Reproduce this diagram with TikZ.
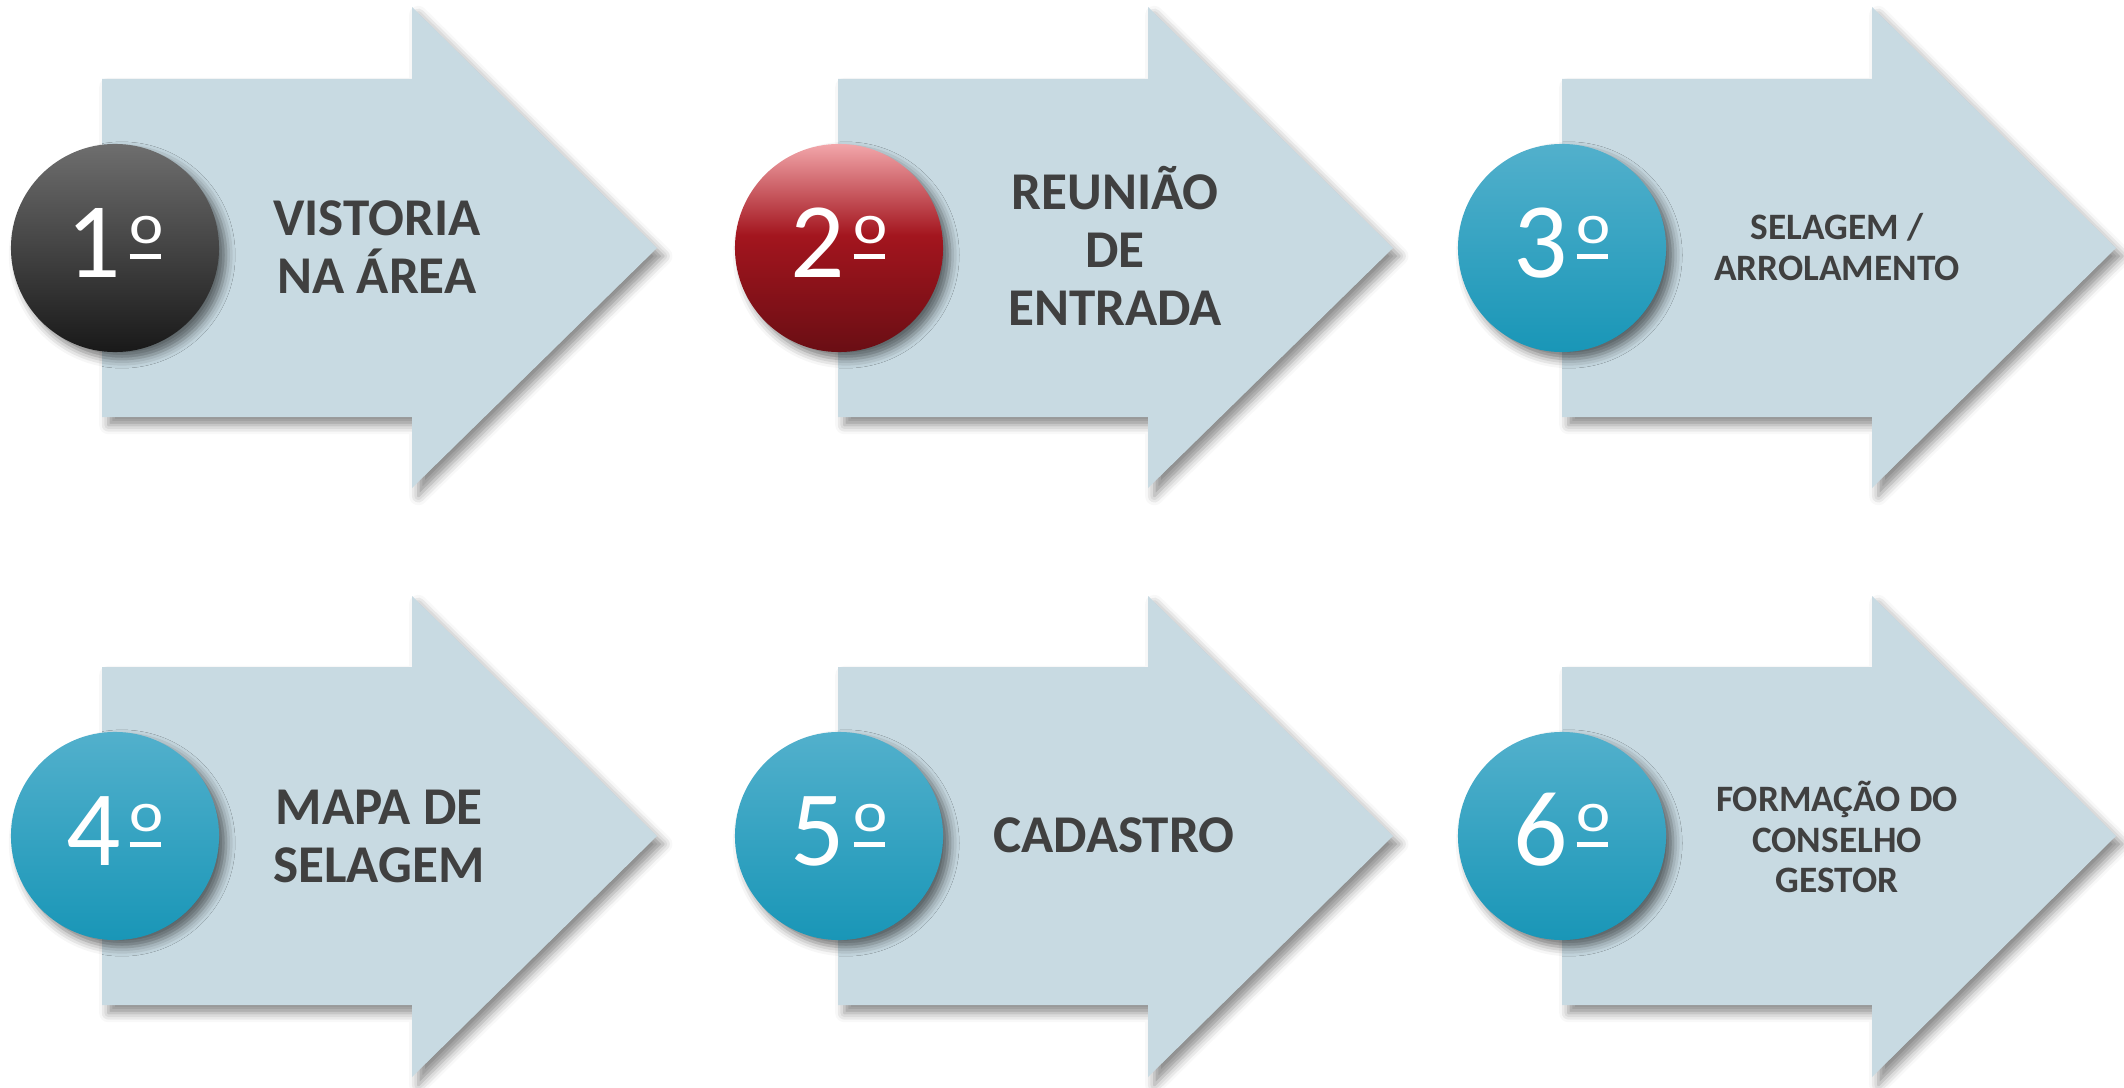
\documentclass[tikz,border=0pt]{standalone}
\usepackage{fontspec}
\usepackage{graphicx}
\setmainfont{Carlito}
\usetikzlibrary{shadows.blur}

\definecolor{setacor}{HTML}{C8DAE2}
\definecolor{textocor}{HTML}{404040}
\definecolor{pretocima}{HTML}{6E6E6E}
\definecolor{pretobaixo}{HTML}{191919}
\definecolor{vermcima}{HTML}{F2A6AA}
\definecolor{vermmeio}{HTML}{A3151E}
\definecolor{vermbaixo}{HTML}{6A0E14}
\definecolor{azulcima}{HTML}{52B0CC}
\definecolor{azulmeio}{HTML}{2BA8C8}
\definecolor{azulbaixo}{HTML}{1996B7}

\pgfdeclareverticalshading{vermgrad}{100bp}{color(0bp)=(vermbaixo); color(25bp)=(vermbaixo);
    color(53bp)=(vermmeio); color(75bp)=(vermcima); color(100bp)=(vermcima)}

% o ordinal sublinhado
\newcommand{\ordo}{{\fontsize{16}{16}\selectfont\kern2.6pt\raisebox{9.5pt}{\rlap{\rule[-4.3pt]{8.8pt}{1.4pt}}\scalebox{1.15}[1]{o}}}}

\tikzset{
    passo/.style={fill=setacor,
        blur shadow={shadow xshift=1.8pt, shadow yshift=-2.3pt,
            shadow blur radius=2.6pt, shadow opacity=45}},
    disco/.style={circle, inner sep=0pt, minimum size=2.08cm, text=white,
        text height=16.7pt, text depth=0pt,
        font=\fontsize{30.5}{30.5}\selectfont,
        blur shadow={shadow xshift=2pt, shadow yshift=-2pt,
            shadow blur radius=2.6pt, shadow opacity=55}},
    disco preto/.style={disco, top color=pretocima, bottom color=pretobaixo},
    disco vermelho/.style={disco, shading=vermgrad},
    disco azul/.style={disco, top color=azulcima, middle color=azulmeio, bottom color=azulbaixo},
    rotulo/.style={align=center, text=textocor, font=\bfseries\fontsize{15.1}{16.5}\selectfont},
    rotulo peq/.style={align=center, text=textocor, font=\bfseries\fontsize{10.6}{11.6}\selectfont}
}

\begin{document}
\begin{tikzpicture}[x=0.01cm, y=0.01cm]
    \useasboundingbox (0,0) rectangle (2124,1087);

    % linha de cima
    \fill[passo] (102,670) -- ++(310,0) -- ++(0,-71) -- ++(245,240) -- ++(-245,241) -- ++(0,-72) -- ++(-310,0) -- cycle;
    \fill[passo] (838,670) -- ++(310,0) -- ++(0,-71) -- ++(245,240) -- ++(-245,241) -- ++(0,-72) -- ++(-310,0) -- cycle;
    \fill[passo] (1562,670) -- ++(310,0) -- ++(0,-71) -- ++(244,240) -- ++(-244,241) -- ++(0,-72) -- ++(-310,0) -- cycle;

    % linha de baixo
    \fill[passo] (102,82) -- ++(310,0) -- ++(0,-72) -- ++(245,241) -- ++(-245,240) -- ++(0,-71) -- ++(-310,0) -- cycle;
    \fill[passo] (838,82) -- ++(310,0) -- ++(0,-72) -- ++(245,241) -- ++(-245,240) -- ++(0,-71) -- ++(-310,0) -- cycle;
    \fill[passo] (1562,82) -- ++(310,0) -- ++(0,-72) -- ++(244,241) -- ++(-244,240) -- ++(0,-71) -- ++(-310,0) -- cycle;

    \node[disco preto] (n1) at (115,839) {1\ordo};
    \node[disco vermelho] (n2) at (839,839) {2\ordo};
    \node[disco azul] (n3) at (1562,839) {3\ordo};
    \node[disco azul] (n4) at (115,251) {4\ordo};
    \node[disco azul] (n5) at (839,251) {5\ordo};
    \node[disco azul] (n6) at (1562,251) {6\ordo};

    \node[rotulo] (t1) at (377,840) {VISTORIA\\NA ÁREA};
    \node[rotulo] (t2) at (1115,841) {REUNIÃO\\DE\\ENTRADA};
    \node[rotulo peq] (t3) at (1837,840) {SELAGEM /\\ARROLAMENTO};
    \node[rotulo] (t4) at (379,251) {MAPA DE\\SELAGEM};
    \node[rotulo] (t5) at (1114,252) {CADASTRO};
    \node[rotulo peq] (t6) at (1837,250) {FORMAÇÃO DO\\CONSELHO\\GESTOR};
\end{tikzpicture}
\end{document}
